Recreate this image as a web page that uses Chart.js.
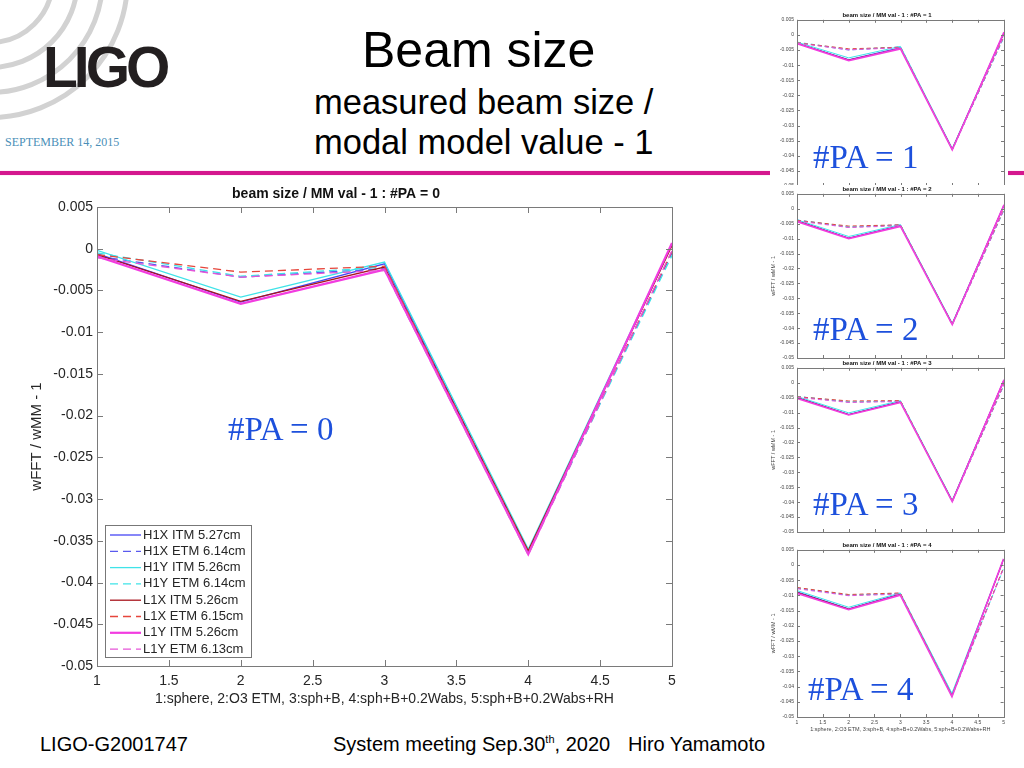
<!DOCTYPE html>
<html>
<head>
<meta charset="utf-8">
<script src="https://cdn.jsdelivr.net/npm/chart.js@4.4.1/dist/chart.umd.min.js"></script>
<style>
  body { margin:0; width:1024px; height:768px; overflow:hidden; background:#fff; position:relative;
         font-family:"Liberation Sans", Arial, sans-serif; color:#000; }
  .abs { position:absolute; white-space:nowrap; }
  .ring { position:absolute; border:5px solid #d2d2d2; border-radius:50%; }
  .pa { position:absolute; font-family:"Liberation Serif", "Times New Roman", serif; font-size:33px;
        color:#1d50dc; z-index:5; line-height:1; }
  canvas.small { background:#fff; }
</style>
</head>
<body>

<!-- logo -->
<div class="ring" style="left:-75px;top:-85px;width:120px;height:120px;"></div>
<div class="ring" style="left:-100px;top:-110px;width:170px;height:170px;"></div>
<div class="ring" style="left:-125px;top:-135px;width:220px;height:220px;"></div>
<div class="ring" style="left:-150px;top:-160px;width:270px;height:270px;"></div>
<div class="abs" style="left:43px;top:34px;font-size:57px;font-weight:bold;letter-spacing:-4px;color:#231f20;">LIGO</div>
<div class="abs" style="left:5px;top:135px;font-family:'Liberation Serif',serif;font-size:12px;color:#4b8fb8;">SEPTEMBER 14, 2015</div>

<!-- slide titles -->
<div class="abs" style="left:362px;top:22px;font-size:50px;line-height:56px;">Beam size</div>
<div class="abs" style="left:314px;top:83px;font-size:34.5px;line-height:38px;">measured beam size /</div>
<div class="abs" style="left:314px;top:123px;font-size:34.5px;line-height:38px;">modal model value - 1</div>
<div class="abs" style="left:0;top:171px;width:1024px;height:4px;background:#d4178e;box-shadow:0 0 1px #f06ac0;"></div>

<!-- charts -->
<canvas id="main" class="abs" width="700" height="530" style="left:0;top:184px;"></canvas>
<canvas id="pa1" class="abs small" width="238" height="181" style="left:770px;top:11px;"></canvas>
<canvas id="pa2" class="abs small" width="238" height="179" style="left:770px;top:185px;"></canvas>
<canvas id="pa3" class="abs small" width="238" height="179" style="left:770px;top:359px;"></canvas>
<canvas id="pa4" class="abs small" width="238" height="194" style="left:770px;top:541px;"></canvas>

<div class="pa" style="left:228px;top:413px;">#PA = 0</div>
<div class="pa" style="left:813px;top:141px;">#PA = 1</div>
<div class="pa" style="left:813px;top:313px;">#PA = 2</div>
<div class="pa" style="left:813px;top:488px;">#PA = 3</div>
<div class="pa" style="left:808px;top:673px;">#PA = 4</div>

<!-- footer -->
<div class="abs" style="left:40px;top:733px;font-size:20px;">LIGO-G2001747</div>
<div class="abs" style="left:333px;top:733px;font-size:20px;">System meeting Sep.30<sup style="font-size:11px;">th</sup>, 2020</div>
<div class="abs" style="left:628px;top:733px;font-size:20px;">Hiro Yamamoto</div>

<script>
// x positions: 1:sphere, 2:O3 ETM, 3:sph+B, 4:sph+B+0.2Wabs, 5:sph+B+0.2Wabs+RH
const xValues = [1, 2, 3, 4, 5];
const seriesNames = ['H1X ITM 5.27cm', 'H1X ETM 6.14cm', 'H1Y ITM 5.26cm', 'H1Y ETM 6.14cm',
                     'L1X ITM 5.26cm', 'L1X ETM 6.15cm', 'L1Y ITM 5.26cm', 'L1Y ETM 6.13cm'];

// wFFT / wMM - 1, one row per series (same order as seriesNames)
const pa0 = [
  [-0.0006, -0.0064, -0.0018, -0.0363,  0.0005],
  [-0.0009, -0.0034, -0.0024, -0.0365, -0.0005],
  [-0.0002, -0.0058, -0.0016, -0.0360,  0.0006],
  [-0.0005, -0.0033, -0.0022, -0.0364, -0.0008],
  [-0.0007, -0.0063, -0.0022, -0.0362,  0.0004],
  [-0.0007, -0.0028, -0.0021, -0.0364, -0.0003],
  [-0.0009, -0.0066, -0.0025, -0.0366,  0.0007],
  [-0.0011, -0.0034, -0.0026, -0.0367, -0.0002]
];
const pa1 = [
  [-0.0027, -0.0082, -0.0042, -0.0378,  0.0006],
  [-0.0025, -0.0050, -0.0040, -0.0380, -0.0006],
  [-0.0024, -0.0076, -0.0038, -0.0375,  0.0008],
  [-0.0024, -0.0048, -0.0040, -0.0379, -0.0008],
  [-0.0028, -0.0083, -0.0045, -0.0378,  0.0007],
  [-0.0026, -0.0046, -0.0041, -0.0379, -0.0004],
  [-0.0029, -0.0085, -0.0046, -0.0380,  0.0009],
  [-0.0027, -0.0049, -0.0043, -0.0381, -0.0003]
];
const pa2 = [
  [-0.0040, -0.0098, -0.0056, -0.0386,  0.0011],
  [-0.0038, -0.0062, -0.0054, -0.0388, -0.0003],
  [-0.0037, -0.0093, -0.0053, -0.0383,  0.0013],
  [-0.0038, -0.0060, -0.0055, -0.0387, -0.0005],
  [-0.0041, -0.0099, -0.0058, -0.0386,  0.0012],
  [-0.0039, -0.0058, -0.0054, -0.0387, -0.0001],
  [-0.0043, -0.0100, -0.0059, -0.0388,  0.0013],
  [-0.0041, -0.0063, -0.0057, -0.0390, -0.0002]
];
const pa3 = [
  [-0.0049, -0.0106, -0.0063, -0.0396,  0.0008],
  [-0.0046, -0.0065, -0.0061, -0.0398, -0.0006],
  [-0.0046, -0.0101, -0.0060, -0.0393,  0.0010],
  [-0.0046, -0.0063, -0.0062, -0.0397, -0.0008],
  [-0.0050, -0.0107, -0.0065, -0.0396,  0.0009],
  [-0.0047, -0.0061, -0.0060, -0.0397, -0.0004],
  [-0.0052, -0.0108, -0.0066, -0.0398,  0.0010],
  [-0.0049, -0.0066, -0.0063, -0.0400, -0.0005]
];
const pa4 = [
  [-0.0088, -0.0144, -0.0095, -0.0428,  0.0018],
  [-0.0076, -0.0100, -0.0093, -0.0430, -0.0010],
  [-0.0084, -0.0139, -0.0092, -0.0422,  0.0020],
  [-0.0075, -0.0098, -0.0094, -0.0428, -0.0012],
  [-0.0090, -0.0145, -0.0097, -0.0430,  0.0019],
  [-0.0074, -0.0097, -0.0092, -0.0430, -0.0008],
  [-0.0093, -0.0147, -0.0099, -0.0433,  0.0020],
  [-0.0078, -0.0101, -0.0096, -0.0433, -0.0011]
];

const yMin = -0.05, yMax = 0.005, yStep = 0.005;
const xMin = 1, xMax = 5, xStep = 0.5;
const xTitle = '1:sphere, 2:O3 ETM, 3:sph+B, 4:sph+B+0.2Wabs, 5:sph+B+0.2Wabs+RH';
const yTitle = 'wFFT / wMM - 1';

// line styles
const lineColors = ['#4646f5', '#5a5aee', '#3fe3e8', '#3fe3e8', '#a8141c', '#e6463c', '#f23ce0', '#e655d8'];
const dashed = [false, true, false, true, false, true, false, true];
const thick = [false, false, false, false, false, false, true, false];

Chart.defaults.font.family = '"Liberation Sans", Arial, sans-serif';
Chart.defaults.color = '#262626';
Chart.defaults.animation = false;

// MATLAB style box with inward ticks on all sides
const matlabBox = {
  id: 'matlabBox',
  afterDatasetsDraw(chart, args, opts) {
    const { ctx, chartArea: a, scales: { x, y } } = chart;
    const t = opts.tick;
    ctx.save();
    ctx.strokeStyle = opts.color;
    ctx.lineWidth = 1;
    ctx.beginPath();
    x.ticks.forEach(tk => {
      const px = Math.round(x.getPixelForValue(tk.value)) + 0.5;
      ctx.moveTo(px, a.bottom); ctx.lineTo(px, a.bottom - t);
      ctx.moveTo(px, a.top); ctx.lineTo(px, a.top + t);
    });
    y.ticks.forEach(tk => {
      const py = Math.round(y.getPixelForValue(tk.value)) + 0.5;
      ctx.moveTo(a.left, py); ctx.lineTo(a.left + t, py);
      ctx.moveTo(a.right, py); ctx.lineTo(a.right - t, py);
    });
    ctx.stroke();
    ctx.strokeRect(Math.round(a.left) + 0.5, Math.round(a.top) + 0.5,
                   Math.round(a.right - a.left), Math.round(a.bottom - a.top));
    ctx.restore();
  }
};

// legend drawn inside the axes, bottom-left
const boxLegend = {
  id: 'boxLegend',
  afterDraw(chart, args, opts) {
    if (!opts.show) return;
    const { ctx, chartArea: a } = chart;
    const sets = chart.data.datasets;
    const x0 = a.left + opts.dx, y0 = a.bottom - opts.dy - opts.h;
    ctx.save();
    ctx.fillStyle = '#fff';
    ctx.fillRect(x0, y0, opts.w, opts.h);
    ctx.strokeStyle = '#777';
    ctx.lineWidth = 1;
    ctx.strokeRect(x0 + 0.5, y0 + 0.5, opts.w, opts.h);
    ctx.font = opts.size + 'px "Liberation Sans", Arial, sans-serif';
    ctx.textBaseline = 'middle';
    sets.forEach((ds, i) => {
      const cy = y0 + opts.first + i * opts.row;
      ctx.strokeStyle = ds.borderColor;
      ctx.lineWidth = ds.borderWidth;
      ctx.setLineDash(ds.borderDash || []);
      ctx.beginPath();
      ctx.moveTo(x0 + 5, cy); ctx.lineTo(x0 + 36, cy);
      ctx.stroke();
      ctx.setLineDash([]);
      ctx.fillStyle = '#262626';
      ctx.fillText(ds.label, x0 + 38, cy);
    });
    ctx.restore();
  }
};

function fmt(v) { return String(Number(Number(v).toFixed(4))); }

function makeChart(id, values, c) {
  const datasets = values.map((row, i) => ({
    label: seriesNames[i],
    data: xValues.map((x, j) => ({ x: x, y: row[j] })),
    borderColor: lineColors[i],
    borderWidth: thick[i] ? c.lw * 1.7 : c.lw,
    borderDash: dashed[i] ? c.dash : [],
    order: -i,          // later series on top, like MATLAB
    pointRadius: 0,
    tension: 0,
    fill: false
  }));
  return new Chart(document.getElementById(id), {
    type: 'line',
    data: { datasets },
    plugins: [matlabBox, boxLegend],
    options: {
      responsive: false,
      layout: { padding: { left: 0, right: c.padRight, top: 0, bottom: c.padBottom } },
      plugins: {
        legend: { display: false },
        tooltip: { enabled: false },
        title: { display: true, text: c.title, color: '#111',
                 font: { size: c.titleSize, weight: 'bold' },
                 padding: { top: c.titleTop, bottom: c.titleBottom } },
        matlabBox: { tick: c.tickLen, color: '#7a7a7a' },
        boxLegend: c.legend || { show: false }
      },
      scales: {
        x: {
          type: 'linear', min: xMin, max: xMax,
          grid: { display: false, drawTicks: false }, border: { display: false },
          ticks: { display: c.showX, stepSize: xStep, autoSkip: false, maxRotation: 0,
                   padding: c.xPad, color: c.tickColor, font: { size: c.tickSize }, callback: fmt },
          title: { display: c.showX, text: xTitle, padding: { top: 0, bottom: 0 },
                   color: c.tickColor, font: { size: c.xTitleSize } },
          afterFit: s => { s.height = c.xHeight; }
        },
        y: {
          min: yMin, max: yMax,
          grid: { display: false, drawTicks: false }, border: { display: false },
          ticks: { stepSize: yStep, autoSkip: false, padding: c.yPad, color: c.tickColor,
                   font: { size: c.tickSize }, callback: fmt },
          title: { display: c.showY, text: yTitle, padding: { top: c.yTitleOff, bottom: 0 },
                   color: c.tickColor, font: { size: c.yTitleSize } },
          afterFit: s => { s.width = c.yWidth; }
        }
      }
    }
  });
}

makeChart('main', pa0, {
  title: 'beam size / MM val - 1 : #PA = 0', titleSize: 14, titleTop: 1.6, titleBottom: 4.6,
  tickSize: 14, xTitleSize: 14, yTitleSize: 15, yTitleOff: 28, tickColor: '#262626',
  showX: true, showY: true, xPad: 6.6, yPad: 4, xHeight: 42, yWidth: 97,
  padRight: 28, padBottom: 6, tickLen: 6, lw: 1.3, dash: [8, 5],
  legend: { show: true, dx: 8, dy: 9, w: 146, h: 132, first: 10, row: 16.3, size: 13 }
});

const smallBase = {
  titleSize: 6, titleTop: 1, titleBottom: 0.6, tickColor: '#444',
  tickSize: 5, xTitleSize: 5.5, yTitleSize: 5.5, yTitleOff: 0,
  xPad: 3, yPad: 3, yWidth: 27, padRight: 4, tickLen: 3, lw: 1, dash: [4, 3]
};
makeChart('pa1', pa1, Object.assign({}, smallBase, {
  title: 'beam size / MM val - 1 : #PA = 1', showX: false, showY: false, xHeight: 4, padBottom: 2 }));
makeChart('pa2', pa2, Object.assign({}, smallBase, {
  title: 'beam size / MM val - 1 : #PA = 2', showX: false, showY: true, xHeight: 4, padBottom: 1 }));
makeChart('pa3', pa3, Object.assign({}, smallBase, {
  title: 'beam size / MM val - 1 : #PA = 3', showX: false, showY: true, xHeight: 4, padBottom: 1 }));
makeChart('pa4', pa4, Object.assign({}, smallBase, {
  title: 'beam size / MM val - 1 : #PA = 4', showX: true, showY: true, xHeight: 15.3, padBottom: 2.7 }));
</script>
</body>
</html>
